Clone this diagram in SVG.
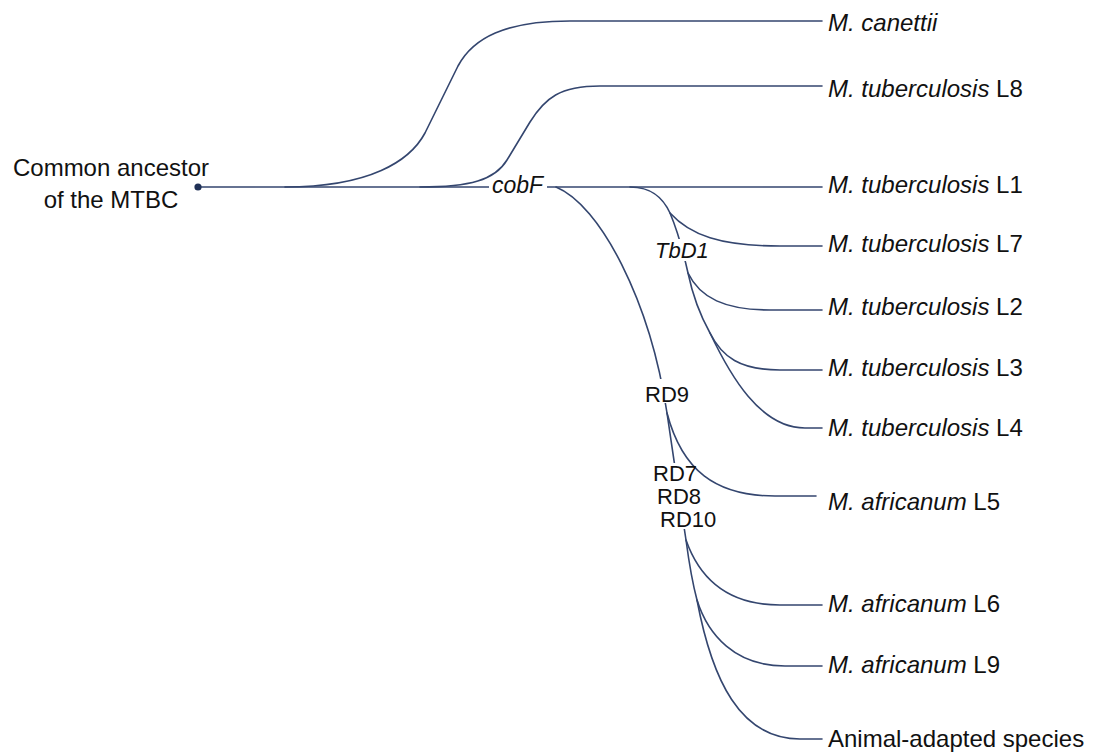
<svg xmlns="http://www.w3.org/2000/svg" width="1102" height="756" viewBox="0 0 1102 756">
<style>
.edge{fill:none;stroke:#34466f;stroke-width:1.6;stroke-linecap:round}
text{font-family:"Liberation Sans",Arial,sans-serif;fill:#111}
.lbl{font-size:24px}
.mk{font-size:22px}
.it{font-style:italic}
</style>
<defs>
<mask id="gaps" maskUnits="userSpaceOnUse" x="0" y="0" width="1102" height="756">
<rect width="1102" height="756" fill="#fff"/>
<rect x="489" y="178" width="58" height="18" fill="#000"/>
<rect x="654" y="239" width="57" height="22" fill="#000"/>
<rect x="644" y="379" width="46" height="24" fill="#000"/>
<rect x="652" y="463" width="66" height="66" fill="#000"/>
</mask>
</defs>
<rect width="1102" height="756" fill="#fff"/>
<g id="connectors">
<path class="edge" mask="url(#gaps)" d="M198 187 L822 187"/>
<path class="edge" d="M285 187 C370 187 410 161 425 133 L458 66 C473 38 505 21 570 21 L822 21"/>
<path class="edge" d="M420 187 C470 187 495 180 507 160 L530 122 C545 98 560 86 600 86 L822 86"/>
<path class="edge" mask="url(#gaps)" d="M630 187 C652 187 663 198 670 213 C678 232 684 255 688 273 C693 297 700 315 710 333 C730 375 760 428 805 428 L822 428"/>
<path class="edge" d="M670 213 C690 235 720 246 780 246 L822 246"/>
<path class="edge" d="M688 273 C700 298 725 310 770 310 L822 310"/>
<path class="edge" d="M710 333 C722 357 740 370 780 370 L822 370"/>
<path class="edge" mask="url(#gaps)" d="M556 187 C600 205 650 300 667 413 C673 455 680 500 686 540 C690 570 693 585 697 600 C712 680 740 739 800 739 L822 739"/>
<path class="edge" d="M667 413 C682 470 715 496 775 496 L816 496"/>
<path class="edge" d="M686 540 C700 580 730 605 780 605 L822 605"/>
<path class="edge" d="M697 600 C708 635 735 666 785 666 L822 666"/>
</g>
<g id="root">
<circle cx="198" cy="187" r="3.6" fill="#1f3156"/>
<text class="lbl" text-anchor="middle" x="111" y="176">Common ancestor</text>
<text class="lbl" text-anchor="middle" x="111" y="208">of the MTBC</text>
</g>
<g id="m-cobF"><text class="mk it" x="492" y="193" style="font-size:23px">cobF</text></g>
<g id="m-TbD1"><text class="mk it" x="655" y="258">TbD1</text></g>
<g id="m-RD9"><text class="mk" x="645" y="402">RD9</text></g>
<g id="m-RD7-8-10">
<text class="mk" x="653" y="481">RD7</text>
<text class="mk" x="657" y="504">RD8</text>
<text class="mk" x="660" y="527">RD10</text>
</g>
<g id="n-canettii"><text class="lbl it" x="828" y="31">M. canettii</text></g>
<g id="n-L8"><text class="lbl" x="828" y="97"><tspan class="it">M. tuberculosis</tspan> L8</text></g>
<g id="n-L1"><text class="lbl" x="828" y="193"><tspan class="it">M. tuberculosis</tspan> L1</text></g>
<g id="n-L7"><text class="lbl" x="828" y="252"><tspan class="it">M. tuberculosis</tspan> L7</text></g>
<g id="n-L2"><text class="lbl" x="828" y="315"><tspan class="it">M. tuberculosis</tspan> L2</text></g>
<g id="n-L3"><text class="lbl" x="828" y="376"><tspan class="it">M. tuberculosis</tspan> L3</text></g>
<g id="n-L4"><text class="lbl" x="828" y="436"><tspan class="it">M. tuberculosis</tspan> L4</text></g>
<g id="n-L5"><text class="lbl" x="828" y="510"><tspan class="it">M. africanum</tspan> L5</text></g>
<g id="n-L6"><text class="lbl" x="828" y="612"><tspan class="it">M. africanum</tspan> L6</text></g>
<g id="n-L9"><text class="lbl" x="828" y="673"><tspan class="it">M. africanum</tspan> L9</text></g>
<g id="n-animal"><text class="lbl" x="828" y="747">Animal-adapted species</text></g>
</svg>
